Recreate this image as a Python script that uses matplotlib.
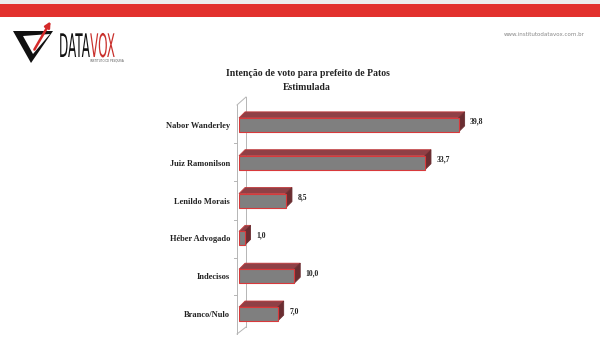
import matplotlib.pyplot as plt
from matplotlib.patches import Polygon, Rectangle, PathPatch
from matplotlib.textpath import TextPath
from matplotlib.font_manager import FontProperties
from matplotlib.transforms import Affine2D

# dados da pesquisa (estimulada)
candidatos = ['Nabor Wanderley', 'Juiz Ramonilson', 'Lenildo Morais',
              'Héber Advogado', 'Indecisos', 'Branco/Nulo']
votos = [39.8, 33.7, 8.5, 1.0, 10.0, 7.0]
rotulos = ['39,8', '33,7', '8,5', '1,0', '10,0', '7,0']

titulo1 = 'Intenção de voto para prefeito de Patos'
titulo2 = 'Estimulada'

W, H = 600, 358
SERIF = ['Liberation Serif', 'DejaVu Serif']

fig = plt.figure(figsize=(6, 3.58), dpi=100)


def fx(px):
    return px / W


def fy(py):
    return 1 - py / H


# main bar axes: 1 unit ~ 5.52 px
ax = fig.add_axes([fx(239), fy(333), 331 / W, (333 - 106) / H])
ypos = list(range(len(candidatos)))
bh = 0.37        # bar thickness
dx, dy = 1.1, 0.16  # depth of the 3d effect

ax.barh(ypos, votos, height=bh, color='#7f7f7f', edgecolor='#d8393b',
        linewidth=0.8, zorder=3)
for y, v, lab in zip(ypos, votos, rotulos):
    top = Polygon([(0, y - bh / 2), (v, y - bh / 2), (v + dx, y - bh / 2 - dy),
                   (dx, y - bh / 2 - dy)], closed=True, facecolor='#8f4046',
                  edgecolor='#c23a3c', lw=0.6, clip_on=False, zorder=2)
    side = Polygon([(v, y - bh / 2), (v + dx, y - bh / 2 - dy),
                    (v + dx, y + bh / 2 - dy), (v, y + bh / 2)], closed=True,
                   facecolor='#6a2d31', edgecolor='#6a2d31', lw=0.6,
                   clip_on=False, zorder=2)
    ax.add_patch(top)
    ax.add_patch(side)
    ax.text(v + dx + 1.0, y - 0.08, lab, ha='left', va='center', fontsize=5.5,
            fontweight='bold', family=SERIF, color='#222222')

ax.set_xlim(0, 60)
ax.set_ylim(len(candidatos) - 0.5, -0.5)
ax.set_yticks(ypos)
ax.set_yticklabels(candidatos, fontsize=6, fontweight='bold', family=SERIF,
                   color='#222222')
ax.tick_params(axis='y', length=0, pad=6.5)
ax.set_xticks([])
for s in ax.spines.values():
    s.set_visible(False)
ax.patch.set_visible(False)

# overlay in pixel coordinates for header, logo and wall
ov = fig.add_axes([0, 0, 1, 1], zorder=-1)
ov.set_xlim(0, W)
ov.set_ylim(H, 0)
ov.axis('off')

ov.add_patch(Rectangle((0, 0), W, 4, color='#ececec', lw=0))
ov.add_patch(Rectangle((0, 4), W, 13, color='#e2312d', lw=0))

# 3d wall on the left of the bars
wc = '#b5b5b5'
ov.plot([237, 237], [105, 334], color=wc, lw=0.7)
ov.plot([246, 246], [97, 327], color=wc, lw=0.7)
ov.plot([237, 246], [105, 97], color=wc, lw=0.7)
ov.plot([237, 246], [334, 327], color=wc, lw=0.7)
for yb in [143, 181, 220, 258, 295]:
    ov.plot([234, 237], [yb, yb], color=wc, lw=0.7)

ov.text(308, 74, titulo1, ha='center', va='center', fontsize=7,
        fontweight='bold', family=SERIF, color='#222222')
ov.text(307, 87, titulo2, ha='center', va='center', fontsize=7,
        fontweight='bold', family=SERIF, color='#222222')

# logo
ov.add_patch(Polygon([(13, 31), (53, 31), (31, 63)], closed=True,
                     facecolor='#111111', lw=0))
ov.add_patch(Polygon([(23, 36), (50, 34), (33, 54)], closed=True,
                     facecolor='white', lw=0))
ov.annotate('', xy=(52, 19), xytext=(33, 52),
            arrowprops=dict(arrowstyle='-|>', color='#d42a2a', lw=1.8,
                            mutation_scale=8))

fp = FontProperties(family=['Liberation Sans Narrow', 'DejaVu Sans'])
x0 = 59
for word, col in [('DATA', '#111111'), ('VOX', '#c9302c')]:
    tp = TextPath((0, 0), word, size=10, prop=fp)
    ext = tp.get_extents()
    sx, sy = 1.2, 3.25
    tr = Affine2D().scale(sx, -sy).translate(x0, 57) + ov.transData
    ov.add_patch(PathPatch(tp, transform=tr, facecolor=col, lw=0))
    x0 += ext.x1 * sx + 0.3
ov.text(90, 61, 'INSTITUTO DE PESQUISA', fontsize=2, color='#555555',
        ha='left', va='center')
ov.text(585, 35, 'www.institutodatavox.com.br', fontsize=4, color='#888888',
        ha='right', va='center')

fig.savefig('out.png', dpi=100)
